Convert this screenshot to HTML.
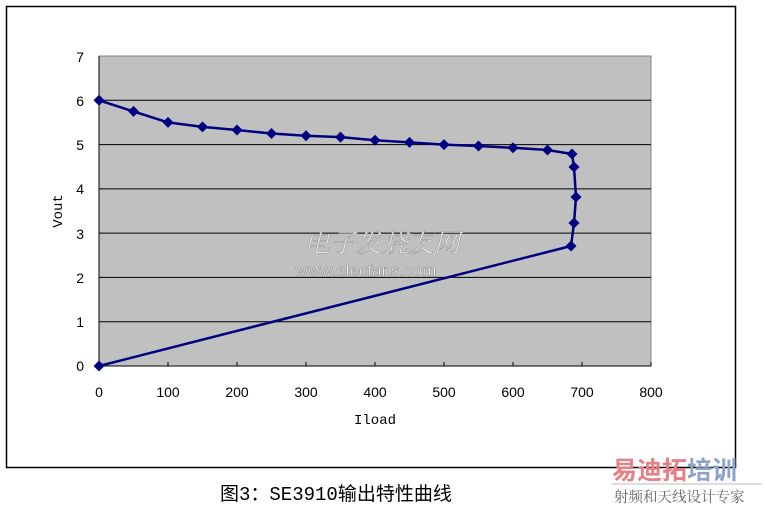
<!DOCTYPE html>
<html><head><meta charset="utf-8"><style>
html,body{margin:0;padding:0;background:#fff;}
svg{display:block;}
</style></head><body>
<svg width="766" height="507" viewBox="0 0 766 507" xmlns="http://www.w3.org/2000/svg">
<rect x="0" y="0" width="766" height="507" fill="#fff"/>
<rect x="6.5" y="6.5" width="729" height="461" fill="#fff" stroke="#000" stroke-width="1.5"/>
<rect x="99" y="56" width="552" height="310" fill="#c0c0c0" stroke="#808080" stroke-width="1"/>
<g stroke="#000" stroke-width="1">
<line x1="99" y1="100.3" x2="651" y2="100.3"/>
<line x1="99" y1="144.6" x2="651" y2="144.6"/>
<line x1="99" y1="188.9" x2="651" y2="188.9"/>
<line x1="99" y1="233.1" x2="651" y2="233.1"/>
<line x1="99" y1="277.4" x2="651" y2="277.4"/>
<line x1="99" y1="321.7" x2="651" y2="321.7"/>
<line x1="99" y1="56" x2="99" y2="366"/>
<line x1="99" y1="366" x2="651" y2="366"/>
</g>
<g stroke="#000" stroke-width="1">
<line x1="168" y1="366" x2="168" y2="362"/><line x1="237" y1="366" x2="237" y2="362"/><line x1="306" y1="366" x2="306" y2="362"/><line x1="375" y1="366" x2="375" y2="362"/><line x1="444" y1="366" x2="444" y2="362"/><line x1="513" y1="366" x2="513" y2="362"/><line x1="582" y1="366" x2="582" y2="362"/><line x1="651" y1="366" x2="651" y2="362"/>
</g>
<g font-size="14" fill="#000" text-anchor="end" font-family="'Liberation Sans',sans-serif">
<text x="84" y="62">7</text><text x="84" y="106">6</text><text x="84" y="150">5</text><text x="84" y="194">4</text><text x="84" y="239">3</text><text x="84" y="283">2</text><text x="84" y="327">1</text><text x="84" y="371">0</text>
</g>
<g font-size="14" fill="#000" text-anchor="middle" font-family="'Liberation Sans',sans-serif">
<text x="99" y="397">0</text><text x="168" y="397">100</text><text x="237" y="397">200</text><text x="306" y="397">300</text><text x="375" y="397">400</text><text x="444" y="397">500</text><text x="513" y="397">600</text><text x="582" y="397">700</text><text x="651" y="397">800</text>
</g>
<g font-size="14" fill="#000" text-anchor="middle" font-family="'Liberation Mono',monospace">
<text x="375" y="424">Iload</text>
<text transform="translate(62,211) rotate(-90)">Vout</text>
</g>
<text x="382" y="252" font-size="26" text-anchor="middle" fill="#e8e8e8" stroke="#999" stroke-width="0.5" font-style="italic" font-family="'Noto Serif CJK SC',serif">电子发烧友网</text>
<text x="366" y="276" font-size="17" text-anchor="middle" fill="#f0f0f0" stroke="#888" stroke-width="0.5" font-family="'Liberation Sans',sans-serif">www.elecfans.com</text>
<polyline fill="none" stroke="#000080" stroke-width="2.5" stroke-linejoin="round" points="99,100.3 133.5,111.4 168,122.4 202.5,126.9 237,130 271.5,133.5 306,135.8 340.5,137.1 375,140.2 409.5,142.4 444,144.6 478.5,146 513,147.8 547.5,150 572,154 574,167 576,197 574,223 571,246 99,366"/>
<g fill="#000080">
<path d="M0,-5.5 L5.5,0 L0,5.5 L-5.5,0 Z" transform="translate(99,100.3)"/>
<path d="M0,-5.5 L5.5,0 L0,5.5 L-5.5,0 Z" transform="translate(133.5,111.4)"/>
<path d="M0,-5.5 L5.5,0 L0,5.5 L-5.5,0 Z" transform="translate(168,122.4)"/>
<path d="M0,-5.5 L5.5,0 L0,5.5 L-5.5,0 Z" transform="translate(202.5,126.9)"/>
<path d="M0,-5.5 L5.5,0 L0,5.5 L-5.5,0 Z" transform="translate(237,130)"/>
<path d="M0,-5.5 L5.5,0 L0,5.5 L-5.5,0 Z" transform="translate(271.5,133.5)"/>
<path d="M0,-5.5 L5.5,0 L0,5.5 L-5.5,0 Z" transform="translate(306,135.8)"/>
<path d="M0,-5.5 L5.5,0 L0,5.5 L-5.5,0 Z" transform="translate(340.5,137.1)"/>
<path d="M0,-5.5 L5.5,0 L0,5.5 L-5.5,0 Z" transform="translate(375,140.2)"/>
<path d="M0,-5.5 L5.5,0 L0,5.5 L-5.5,0 Z" transform="translate(409.5,142.4)"/>
<path d="M0,-5.5 L5.5,0 L0,5.5 L-5.5,0 Z" transform="translate(444,144.6)"/>
<path d="M0,-5.5 L5.5,0 L0,5.5 L-5.5,0 Z" transform="translate(478.5,146)"/>
<path d="M0,-5.5 L5.5,0 L0,5.5 L-5.5,0 Z" transform="translate(513,147.8)"/>
<path d="M0,-5.5 L5.5,0 L0,5.5 L-5.5,0 Z" transform="translate(547.5,150)"/>
<path d="M0,-5.5 L5.5,0 L0,5.5 L-5.5,0 Z" transform="translate(572,154)"/>
<path d="M0,-5.5 L5.5,0 L0,5.5 L-5.5,0 Z" transform="translate(574,167)"/>
<path d="M0,-5.5 L5.5,0 L0,5.5 L-5.5,0 Z" transform="translate(576,197)"/>
<path d="M0,-5.5 L5.5,0 L0,5.5 L-5.5,0 Z" transform="translate(574,223)"/>
<path d="M0,-5.5 L5.5,0 L0,5.5 L-5.5,0 Z" transform="translate(571,246)"/>
<path d="M0,-5.5 L5.5,0 L0,5.5 L-5.5,0 Z" transform="translate(99,366)"/>
</g>
<text x="220" y="500" font-size="19" fill="#000" font-family="'Liberation Mono','Noto Sans CJK SC',monospace">图3：SE3910输出特性曲线</text>
<text x="612" y="479" font-size="25" font-weight="bold" fill="#e87f86" font-family="'Noto Sans CJK SC',sans-serif">易迪拓</text>
<text x="687" y="479" font-size="25" font-weight="bold" fill="#8ea3cc" font-family="'Noto Sans CJK SC',sans-serif">培训</text>
<line x1="612" y1="484" x2="762" y2="484" stroke="#bbb" stroke-width="1"/>
<text x="614" y="502" font-size="14.5" fill="#666" font-family="'Noto Serif CJK SC',serif">射频和天线设计专家</text>
</svg>
</body></html>
